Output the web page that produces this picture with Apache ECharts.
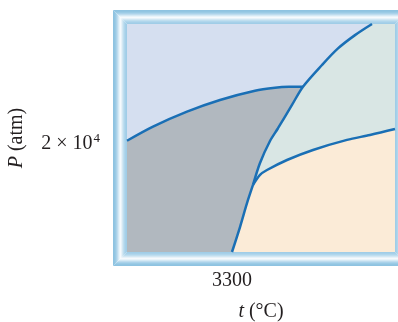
<!DOCTYPE html>
<html>
<head>
<meta charset="utf-8">
<script src="https://cdn.jsdelivr.net/npm/echarts@6/dist/echarts.min.js"></script>
<style>
html,body{margin:0;padding:0;background:#fff;}
#chart{width:398px;height:322px;}
</style>
</head>
<body>
<div id="chart"></div>
<script>
// Axis ranges and ticks
const T_MIN = 2250, T_MAX = 4930;
const P_MIN = 0, P_MAX = 42000;
const T_TICKS = [3300];
const P_TICKS = [20000];
const T_TICK_LABELS = ['3300'];
const P_TICK_LABELS = ['{a|2 × 10}{s|4}'];

// Phase boundaries (t in °C, P in atm, schematic)
const graphiteDiamondT = [2250, 2510, 2850, 3180, 3530, 3730, 3870, 4010];
const graphiteDiamondP = [20500, 23100, 25850, 28000, 29700, 30250, 30430, 30450];
const meltLowT = [3300, 3380, 3450, 3510];
const meltLowP = [0, 4600, 9000, 12350];
const meltHighT = [3510, 3580, 3680, 3760, 3900, 4010, 4200, 4360, 4530, 4700];
const meltHighP = [12350, 16400, 20450, 22800, 27100, 30450, 34450, 37500, 39950, 42000];
const vaporT = [3510, 3580, 3650, 3850, 4110, 4450, 4680, 4930];
const vaporP = [12350, 14200, 15100, 16950, 18800, 20650, 21550, 22650];

const regionNames = ['Diamond', 'Graphite', 'Liquid', 'Vapor'];

const zip = (a, b) => a.map((v, i) => [v, b[i]]);
const gd = zip(graphiteDiamondT, graphiteDiamondP);
const mlLow = zip(meltLowT, meltLowP);
const mlHigh = zip(meltHighT, meltHighP);
const lv = zip(vaporT, vaporP);
const tripleIdx = meltHighT.indexOf(graphiteDiamondT[graphiteDiamondT.length - 1]);

const regions = [
  // Diamond
  [[T_MIN, P_MAX]].concat(gd, mlHigh.slice(tripleIdx + 1)),
  // Graphite
  [[T_MIN, P_MIN]].concat(gd, mlHigh.slice(0, tripleIdx).reverse(), mlLow.slice(0, -1).reverse()),
  // Liquid
  mlHigh.concat([[T_MAX, P_MAX]], lv.slice(1).reverse()),
  // Vapor
  mlLow.concat(lv.slice(1), [[T_MAX, P_MIN]])
];
const regionColors = ['#d5dff0', '#b1b8bf', '#d9e6e4', '#fbebd7'];

const SERIF = '"Liberation Serif", "DejaVu Serif", serif';
const TEXT = '#231f20';
const LINE = '#1a6fb5';

// frame graphics
const frameColors = ['#8ec3e1','#92c5e2','#9bcbe5','#aad2ea','#bedcee','#d4e9f5','#e9f4fa','#f6fafd','#e7f2f9','#d2e7f3','#bfdeef','#b0d6ec','#a6d0e9','#a0cde7'];
const frame = frameColors.map((c, k) => ({
  type: 'rect',
  silent: true,
  shape: { x: 113 + k + 0.5, y: 10 + k + 0.5, width: (409 - k) - (113 + k) - 1, height: (266 - k) - (10 + k) - 1 },
  style: { fill: 'none', stroke: c, lineWidth: 1 }
}));

const labelPos = [[223, 56], [193, 164], [344, 105], [323, 193]];
const labels = regionNames.map((n, i) => ({
  type: 'text',
  silent: true,
  x: labelPos[i][0], y: labelPos[i][1],
  style: { text: n, fontFamily: SERIF, fontSize: 20, fill: TEXT, align: 'center', verticalAlign: 'middle' }
}));

const chart = echarts.init(document.getElementById('chart'));
const lineSeries = (data) => ({
  type: 'line', data: data, showSymbol: false, symbol: 'none', smooth: 0.3,
  lineStyle: { color: LINE, width: 2.5 }, silent: true, z: 5, clip: true
});

chart.setOption({
  animation: false,
  grid: { left: 127, right: 3, top: 24, bottom: 70, outerBoundsMode: 'none', containLabel: false },
  xAxis: {
    type: 'value', min: T_MIN, max: T_MAX,
    axisLine: { show: false }, axisTick: { show: false }, splitLine: { show: false },
    axisLabel: {
      customValues: T_TICKS,
      formatter: v => T_TICK_LABELS[T_TICKS.indexOf(v)] || '',
      fontFamily: SERIF, fontSize: 20, color: TEXT, margin: 19
    },
    name: '{it|t} (°C)', nameLocation: 'middle', nameGap: 50,
    nameTextStyle: { fontFamily: SERIF, fontSize: 20, color: TEXT,
      rich: { it: { fontFamily: SERIF, fontSize: 20, fontStyle: 'italic', color: TEXT } } }
  },
  yAxis: {
    type: 'value', min: P_MIN, max: P_MAX,
    axisLine: { show: false }, axisTick: { show: false }, splitLine: { show: false },
    axisLabel: {
      customValues: P_TICKS,
      formatter: v => P_TICK_LABELS[P_TICKS.indexOf(v)] || '',
      margin: 27,
      rich: {
        a: { fontFamily: SERIF, fontSize: 20, color: TEXT, lineHeight: 22 },
        s: { fontFamily: SERIF, fontSize: 13, color: TEXT, verticalAlign: 'top', lineHeight: 22, padding: [0, 0, 8, 1] }
      }
    },
    name: '{it|P} (atm)', nameLocation: 'middle', nameGap: 100,
    nameTextStyle: { fontFamily: SERIF, fontSize: 20, color: TEXT,
      rich: { it: { fontFamily: SERIF, fontSize: 20, fontStyle: 'italic', color: TEXT } } }
  },
  graphic: frame.concat(labels),
  series: [
    {
      type: 'custom', silent: true, z: 1, clip: true,
      data: regions.map((r, i) => [i]),
      renderItem: (params, api) => ({
        type: 'polygon',
        shape: { points: regions[params.dataIndex].map(p => api.coord(p)) },
        style: { fill: regionColors[params.dataIndex], stroke: regionColors[params.dataIndex], lineWidth: 0.5 }
      })
    },
    lineSeries(gd),
    lineSeries(mlLow),
    lineSeries(mlHigh),
    lineSeries(lv)
  ]
});
</script>
</body>
</html>
